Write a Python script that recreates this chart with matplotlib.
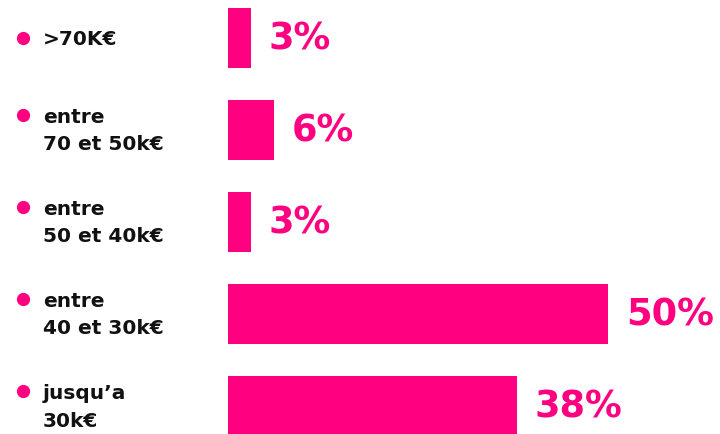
import matplotlib
matplotlib.use("Agg")
from matplotlib import pyplot as plt
from matplotlib import transforms

# dane
kategorie = [">70K€", "entre\n70 et 50k€", "entre\n50 et 40k€", "entre\n40 et 30k€", "jusqu’a\n30k€"]
wartosci = [3, 6, 3, 50, 38]
etykiety = ["3%", "6%", "3%", "50%", "38%"]

kolor = "#FF0080"

fig = plt.figure(figsize=(7.2, 4.35), dpi=100)
ax = fig.add_axes([0, 0, 1, 1])

y = range(len(kategorie))
ax.barh(y, wartosci, height=0.65, color=kolor, left=0)

# skala: 0 w pikselu 228, ok. 7.6 px na 1%
ax.set_xlim(-228 / 7.6, 492 / 7.6)
ax.set_ylim(4.30, -0.424)
ax.axis("off")

# etykiety po lewej
tr = transforms.blended_transform_factory(fig.transFigure, ax.transData)
for i, (kat, w, et) in enumerate(zip(kategorie, wartosci, etykiety)):
    ax.text(43 / 720, i, kat, transform=tr, ha="left", va="center",
            fontsize=14.5, fontweight="bold", color="#111111",
            linespacing=1.55, family="DejaVu Sans")
    dy = 0 if "\n" not in kat else -15 / 92
    ax.plot([23 / 720], [i + dy], "o", transform=tr, color=kolor,
            markersize=8.5, clip_on=False)
    ax.annotate(et, xy=(w, i), xytext=(13, 0), textcoords="offset points",
                ha="left", va="center", fontsize=26.5, fontweight="heavy",
                color=kolor, family="DejaVu Sans")

plt.savefig("out.png", dpi=100)
